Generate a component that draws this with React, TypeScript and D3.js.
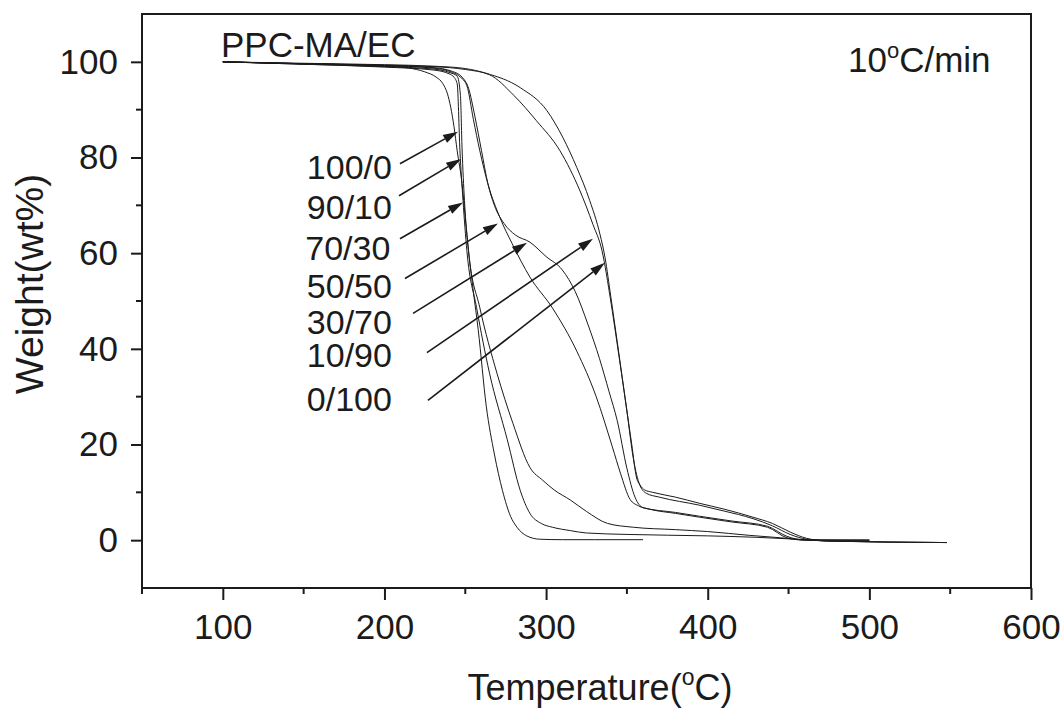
import React, { useEffect, useRef } from "react";
import * as d3 from "d3";

// TGA curves of PPC-MA/EC blends
const t100_0 = [100, 150, 200, 215, 225, 232, 236, 239, 241, 243, 245, 248, 250, 252, 255, 258, 263, 268, 273, 278, 282, 288, 296, 310, 330, 360];
const w100_0 = [100, 99.6, 99.1, 98.7, 97.9, 96.8, 95.5, 93.3, 90.5, 86.5, 81.4, 74.5, 67.4, 60.5, 52, 44, 28, 18, 10.4, 5, 2.7, 0.9, 0.2, 0.1, 0.1, 0.1];

const t90_10 = [100, 150, 200, 230, 240, 243, 245, 246.7, 248.6, 251, 257, 265, 276, 284, 290, 297, 304, 315, 325, 350, 400, 430, 455, 470, 500];
const w90_10 = [100, 99.5, 98.9, 98.3, 97.5, 96.8, 95.4, 81.4, 71, 60.5, 48.6, 34.9, 21, 10.4, 5.6, 3.5, 2.7, 2, 1.5, 1.2, 0.9, 0.6, 0.2, 0, 0];

const t70_30 = [100, 150, 200, 230, 240, 245, 247, 248, 249.5, 252, 259, 269.6, 279.5, 290, 298, 305, 315, 325, 338, 354, 380, 400, 426, 445, 460, 500];
const w70_30 = [100, 99.5, 99, 98.5, 97.8, 97, 93, 82, 71, 60.5, 48.6, 34.9, 24.4, 15.2, 12.5, 10.5, 8.4, 6, 3.5, 2.7, 2.2, 1.8, 1, 0.5, 0.1, 0];

const t50_50 = [100, 150, 200, 230, 242, 247, 251, 255, 259, 264, 271.5, 279, 290, 304, 319, 331, 341, 346, 352, 357, 365, 380, 395, 415, 437, 449, 460, 500];
const w50_50 = [100, 99.6, 99.2, 98.7, 97.8, 96.8, 95, 88, 81.4, 74.5, 67.4, 62, 55, 48.5, 39.5, 30, 19.5, 14, 8.5, 7.2, 6.4, 5.6, 4.8, 3.8, 2.7, 0.5, 0, 0];

const t30_70 = [100, 150, 200, 230, 242, 248, 252, 256, 260, 264, 268, 274, 281, 290, 300, 310, 318, 326, 333, 339, 344, 350, 355, 360, 380, 395, 415, 437, 449, 460, 548];
const w30_70 = [100, 99.6, 99.2, 98.8, 98, 96.8, 94.5, 88.5, 81.5, 74.5, 70, 66.2, 63.8, 62.3, 59.3, 56.5, 52, 45, 38, 31, 25, 15, 9, 6.8, 5.8, 5, 4, 2.9, 0.8, 0, -0.5];

const t10_90 = [100, 150, 200, 230, 250, 265, 280, 294, 308.6, 321, 329, 334.6, 340, 344, 350, 354, 358, 362, 370, 395, 410, 428, 440, 451, 461, 475, 548];
const w10_90 = [100, 99.6, 99.3, 99, 98.4, 97.3, 93, 87.7, 81.4, 73, 66, 60.5, 50, 41, 27, 17, 11.5, 9.8, 9, 7.3, 6.1, 4.5, 3, 1.2, 0.2, -0.2, -0.5];

const t0_100 = [100, 150, 200, 230, 250, 263, 284, 300.5, 310.5, 319, 327, 333.3, 336.5, 340, 344, 350, 353, 356, 358, 361, 366, 380, 395, 410, 428, 440, 451, 461, 475, 548];
const w0_100 = [100, 99.7, 99.4, 99.1, 98.6, 97.6, 94.6, 89.8, 84.1, 77.9, 71, 64, 59, 51, 41.5, 27, 20, 13, 11.6, 10.5, 10, 9, 7.7, 6.5, 4.8, 3.5, 1.7, 0.4, -0.2, -0.5];

// blend labels with their arrows (data units)
const blendLabels = ["100/0", "90/10", "70/30", "50/50", "30/70", "10/90", "0/100"];
const labelT = [152, 152, 151, 152, 152, 152, 152];
const labelW = [75.6, 67.2, 58.5, 50.7, 43.2, 36.1, 27.1];
const arrowFromT = [209.6, 209, 209.6, 212.7, 217.7, 226.3, 226.9];
const arrowFromW = [78.7, 72, 63, 54.7, 47.4, 39.2, 29.2];
const arrowToT = [245.5, 247.4, 248.6, 270.2, 288.2, 329, 336.4];
const arrowToW = [85.4, 79.7, 70.6, 66.2, 62.2, 63, 58];

const xMajor = [100, 200, 300, 400, 500, 600];
const xMinor = [50, 150, 250, 350, 450, 550];
const yMajor = [0, 20, 40, 60, 80, 100];
const yMinor = [10, 30, 50, 70, 90];

const FONT = "'Liberation Sans', Arial, Helvetica, sans-serif";
const INK = "#1b1b1b";

export default function App() {
  const svgRef = useRef<SVGSVGElement>(null);

  useEffect(() => {
    const svg = d3.select(svgRef.current);
    svg.selectAll("*").remove();

    const left = 142, right = 1031, top = 14, bottom = 588;
    const x = d3.scaleLinear().domain([50, 600]).range([left, right]);
    const y = d3.scaleLinear().domain([-10, 110]).range([bottom, top]);

    // curves
    const series = [
      [t100_0, w100_0], [t90_10, w90_10], [t70_30, w70_30], [t50_50, w50_50],
      [t30_70, w30_70], [t10_90, w10_90], [t0_100, w0_100],
    ];
    const line = d3
      .line<[number, number]>()
      .x((d) => x(d[0]))
      .y((d) => y(d[1]))
      .curve(d3.curveMonotoneX);

    series.forEach(([ts, ws]) => {
      svg
        .append("path")
        .datum(ts.map((t, i) => [t, ws[i]] as [number, number]))
        .attr("fill", "none")
        .attr("stroke", INK)
        .attr("stroke-width", 1)
        .attr("d", line);
    });

    // frame
    svg
      .append("rect")
      .attr("x", left)
      .attr("y", top)
      .attr("width", right - left)
      .attr("height", bottom - top)
      .attr("fill", "none")
      .attr("stroke", INK)
      .attr("stroke-width", 2);

    // axes
    const xAxis = svg
      .append("g")
      .attr("transform", `translate(0,${bottom})`)
      .call(d3.axisBottom(x).tickValues(xMajor).tickSize(12).tickPadding(14).tickFormat(d3.format("d")));
    const yAxis = svg
      .append("g")
      .attr("transform", `translate(${left},0)`)
      .call(d3.axisLeft(y).tickValues(yMajor).tickSize(11).tickPadding(13).tickFormat(d3.format("d")));

    [xAxis, yAxis].forEach((g) => {
      g.select(".domain").remove();
      g.selectAll("line").attr("stroke", INK).attr("stroke-width", 2);
      g.selectAll("text")
        .attr("fill", INK)
        .style("font-family", FONT)
        .style("font-size", "35px");
    });

    svg
      .append("g")
      .selectAll("line")
      .data(xMinor)
      .join("line")
      .attr("x1", (d) => x(d))
      .attr("x2", (d) => x(d))
      .attr("y1", bottom)
      .attr("y2", bottom + 6)
      .attr("stroke", INK)
      .attr("stroke-width", 2);

    svg
      .append("g")
      .selectAll("line")
      .data(yMinor)
      .join("line")
      .attr("x1", left)
      .attr("x2", left - 6)
      .attr("y1", (d) => y(d))
      .attr("y2", (d) => y(d))
      .attr("stroke", INK)
      .attr("stroke-width", 2);

    // axis titles
    const xt = svg
      .append("text")
      .attr("x", 600)
      .attr("y", 700)
      .attr("text-anchor", "middle")
      .attr("fill", INK)
      .style("font-family", FONT)
      .style("font-size", "36px");
    xt.append("tspan").text("Temperature(");
    xt.append("tspan").attr("dy", -15).style("font-size", "23px").text("o");
    xt.append("tspan").attr("dy", 15).text("C)");

    svg
      .append("text")
      .attr("transform", "translate(43,284) rotate(-90)")
      .attr("text-anchor", "middle")
      .attr("fill", INK)
      .style("font-family", FONT)
      .style("font-size", "39px")
      .text("Weight(wt%)");

    // annotations
    svg
      .append("text")
      .attr("x", 221)
      .attr("y", 57)
      .attr("fill", INK)
      .style("font-family", FONT)
      .style("font-size", "35px")
      .text("PPC-MA/EC");

    const rate = svg
      .append("text")
      .attr("x", 848)
      .attr("y", 72)
      .attr("fill", INK)
      .style("font-family", FONT)
      .style("font-size", "35px");
    rate.append("tspan").text("10");
    rate.append("tspan").attr("dy", -14).style("font-size", "22px").text("o");
    rate.append("tspan").attr("dy", 14).text("C/min");

    blendLabels.forEach((lab, i) => {
      svg
        .append("text")
        .attr("x", x(labelT[i]))
        .attr("y", y(labelW[i]))
        .attr("fill", INK)
        .style("font-family", FONT)
        .style("font-size", "34px")
        .text(lab);

      const x1 = x(arrowFromT[i]), y1 = y(arrowFromW[i]);
      const x2 = x(arrowToT[i]), y2 = y(arrowToW[i]);
      const ang = Math.atan2(y2 - y1, x2 - x1);
      const len = 15, half = 4.5;
      const bx = x2 - len * Math.cos(ang), by = y2 - len * Math.sin(ang);
      svg
        .append("line")
        .attr("x1", x1)
        .attr("y1", y1)
        .attr("x2", bx)
        .attr("y2", by)
        .attr("stroke", INK)
        .attr("stroke-width", 1.6);
      const px = -Math.sin(ang) * half, py = Math.cos(ang) * half;
      svg
        .append("path")
        .attr("d", `M${x2},${y2}L${bx + px},${by + py}L${bx - px},${by - py}Z`)
        .attr("fill", INK);
    });
  }, []);

  return (
    <svg
      ref={svgRef}
      width={1063}
      height={710}
      style={{ position: "absolute", left: 0, top: 0, background: "#fff" }}
    />
  );
}
